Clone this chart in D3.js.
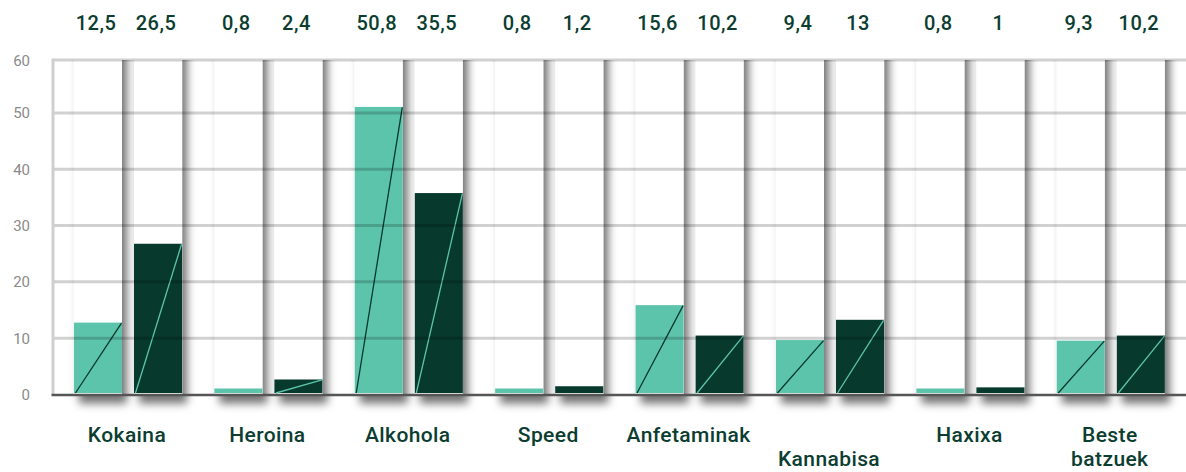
<!DOCTYPE html>
<html>
<head>
<meta charset="utf-8">
<script src="https://cdn.jsdelivr.net/npm/d3@7"></script>
<style>
  html, body { margin: 0; padding: 0; background: #fff; }
  svg { display: block; font-family: Roboto, "DejaVu Sans", sans-serif; }
</style>
</head>
<body>
<svg id="chart" width="1186" height="472"></svg>
<script>
const categories = ["Kokaina", "Heroina", "Alkohola", "Speed", "Anfetaminak", "Kannabisa", "Haxixa", "Beste batzuek"];
const categoryLines = [["Kokaina"], ["Heroina"], ["Alkohola"], ["Speed"], ["Anfetaminak"], ["", "Kannabisa"], ["Haxixa"], ["Beste", "batzuek"]];
const seriesA = [12.5, 0.8, 50.8, 0.8, 15.6, 9.4, 0.8, 9.3];
const seriesB = [26.5, 2.4, 35.5, 1.2, 10.2, 13, 1, 10.2];
const yTicks = [0, 10, 20, 30, 40, 50, 60];

(function () {
const W = 1186, H = 472;
const mLeft = 53, mRight = 1186, mTop = 60, mBottom = 394.5;
const lightC = "#5cc4ab", darkC = "#07392d", textC = "#0b3d30";

const svg = d3.select("#chart");
const defs = svg.append("defs");
const f = defs.append("filter").attr("id", "sh")
  .attr("x", "-50%").attr("y", "-20%").attr("width", "200%").attr("height", "140%");
f.append("feDropShadow").attr("dx", 5).attr("dy", 9).attr("stdDeviation", 4.5)
  .attr("flood-color", "#000").attr("flood-opacity", 0.55);
defs.append("clipPath").attr("id", "clipTop").append("rect")
  .attr("x", 0).attr("y", mTop).attr("width", W).attr("height", H - mTop);

const x = d3.scaleBand().domain(categories).range([57.8, 1181]).paddingInner(0.23).paddingOuter(0.115);
const xs = d3.scaleBand().domain(["a", "b"]).range([0, x.bandwidth()]).paddingInner(0.2);
const y = d3.scaleLinear().domain([0, 60]).range([mBottom, 56.6]);

const data = [];
categories.forEach((c, i) => {
  data.push({ cat: c, key: "a", v: seriesA[i], fill: lightC, line: darkC });
  data.push({ cat: c, key: "b", v: seriesB[i], fill: darkC, line: lightC });
});
const bx = d => x(d.cat) + xs(d.key);

// white columns with shadow
const colG = svg.append("g").attr("clip-path", "url(#clipTop)");
colG.selectAll("rect").data(data).join("rect")
  .attr("x", bx).attr("y", mTop - 25)
  .attr("width", xs.bandwidth()).attr("height", mBottom - mTop + 25)
  .attr("fill", "#fff").attr("filter", "url(#sh)");

// bars
svg.append("g").selectAll("rect").data(data).join("rect")
  .attr("x", bx).attr("y", d => y(d.v) - 1.5)
  .attr("width", xs.bandwidth()).attr("height", d => y(0) - y(d.v))
  .attr("fill", d => d.fill);

// diagonals
svg.append("g").selectAll("line").data(data.filter(d => d.v >= 2)).join("line")
  .attr("x1", d => bx(d) + 1.5).attr("y1", y(0) - 1.5)
  .attr("x2", d => bx(d) + xs.bandwidth() - 0.5).attr("y2", d => y(d.v) - 1)
  .attr("stroke", d => d.line).attr("stroke-width", 1.3);

// grid lines
svg.append("g").selectAll("line").data(yTicks.filter(t => t > 0)).join("line")
  .attr("x1", mLeft).attr("x2", mRight)
  .attr("y1", d => d === 60 ? mTop : y(d)).attr("y2", d => d === 60 ? mTop : y(d))
  .attr("stroke", "#000").attr("stroke-opacity", 0.18).attr("stroke-width", 3);

// left axis line
svg.append("line").attr("x1", mLeft).attr("x2", mLeft).attr("y1", mTop - 1.5).attr("y2", mBottom)
  .attr("stroke", "#cfcfcf").attr("stroke-width", 3);

// baseline
svg.append("line").attr("x1", mLeft - 1.5).attr("x2", mRight).attr("y1", y(0) + 0.5).attr("y2", y(0) + 0.5)
  .attr("stroke", "#555").attr("stroke-width", 2.5);

// y labels
svg.append("g").selectAll("text").data(yTicks).join("text")
  .attr("x", 30).attr("y", d => (d === 60 ? mTop : y(d)) + 5.5)
  .attr("text-anchor", "end").attr("fill", "#8a8a8a")
  .style("font-size", "15px")
  .text(d => d);

// value labels
const fmt = v => String(v).replace(".", ",");
svg.append("g").selectAll("text").data(data).join("text")
  .attr("x", d => bx(d) + xs.bandwidth() / 2 - 2).attr("y", 30)
  .attr("text-anchor", "middle").attr("fill", textC)
  .style("font-size", "20px").style("font-weight", 500).style("letter-spacing", "0.5px")
  .text(d => fmt(d.v));

// category labels
const cg = svg.append("g").selectAll("text").data(categories).join("text")
  .attr("text-anchor", "middle").attr("fill", textC)
  .style("font-size", "21px").style("font-weight", 500).style("letter-spacing", "0.4px");
cg.each(function (d, i) {
  const t = d3.select(this);
  categoryLines[i].forEach((ln, j) => {
    t.append("tspan").attr("x", x(d) + x.bandwidth() / 2 - 1).attr("y", 442 + j * 23.5).text(ln);
  });
});
})();
</script>
</body>
</html>
